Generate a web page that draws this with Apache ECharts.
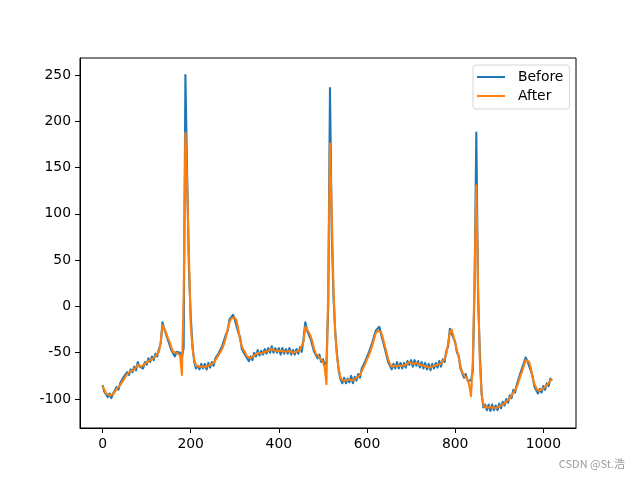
<!DOCTYPE html>
<html>
<head>
<meta charset="utf-8">
<script src="https://cdn.jsdelivr.net/npm/echarts@6/dist/echarts.min.js"></script>
<style>html,body{margin:0;padding:0;background:#fff;}#c{width:640px;height:480px;}</style>
</head>
<body>
<div id="c"></div>
<script>
// sample spacing of the arrays below (x = index * step)
const step = 4;
const seriesNames = ["Before", "After"];
// Before: rows of 10 samples, each row covers 40 x-units
const beforeY = [
  -85,-92,-93,-98,-94,-99,-94,-94,-87,-90,
  -83,-84,-76,-78,-71,-74,-68,-71,-65,-69,
  -60,-65,-63,-67,-60,-63,-56,-60,-54,-58,
  -51,-54,-46,-40,-17,-24,-25,-36,-35,-47,
  -47,-54,-49,-51,-50,-55,-45,250,140,40,
  -10,-42,-60,-67,-64,-68,-62,-67,-62,-68,
  -61,-66,-60,-64,-56,-58,-50,-52,-42,-42,
  -30,-26,-14,-15,-9,-14,-12,-28,-33,-46,
  -44,-53,-51,-59,-54,-58,-50,-54,-47,-53,
  -48,-52,-46,-51,-45,-50,-43,-50,-45,-50,
  -45,-52,-45,-51,-46,-51,-45,-52,-47,-52,
  -46,-51,-44,-49,-35,-17,-26,-25,-35,-35,
  -49,-48,-56,-52,-60,-57,-63,-60,0,236,
  80,10,-28,-52,-70,-79,-83,-77,-83,-78,
  -82,-75,-83,-76,-80,-73,-77,-67,-69,-59,
  -60,-50,-51,-39,-37,-26,-28,-22,-30,-32,
  -45,-47,-60,-60,-68,-62,-67,-60,-67,-61,
  -67,-61,-66,-59,-63,-58,-65,-58,-64,-59,
  -66,-60,-67,-61,-68,-62,-69,-62,-67,-61,
  -66,-59,-65,-57,-60,-48,-43,-24,-22,-34,
  -38,-50,-53,-67,-69,-77,-73,-80,-78,-80,
  -70,20,188,10,-50,-94,-109,-106,-112,-106,
  -113,-106,-112,-107,-112,-105,-110,-103,-107,-100,
  -104,-96,-99,-90,-93,-84,-84,-72,-73,-61,
  -55,-59,-58,-70,-76,-87,-86,-94,-89,-93,
  -86,-90,-83,-86,-78,-80
];
// After: same sampling
const afterY = [
  -86,-90,-94,-96,-96,-96,-95,-92,-89,-87,
  -85,-82,-79,-76,-73,-71,-70,-69,-68,-66,
  -63,-63,-65,-64,-62,-60,-59,-58,-57,-55,
  -54,-52,-49,-38,-20,-22,-28,-34,-38,-44,
  -49,-51,-50,-48,-53,-74,10,188,130,55,
  -20,-45,-57,-64,-66,-65,-65,-65,-64,-65,
  -64,-63,-63,-61,-58,-55,-53,-49,-45,-40,
  -33,-24,-17,-13,-12,-12,-15,-25,-36,-43,
  -47,-50,-54,-56,-56,-55,-53,-51,-50,-51,
  -51,-49,-49,-48,-48,-47,-46,-47,-48,-47,
  -48,-49,-48,-48,-49,-48,-48,-49,-50,-49,
  -49,-48,-47,-46,-38,-22,-24,-28,-32,-38,
  -46,-51,-53,-55,-57,-60,-66,-84,20,176,
  100,20,-30,-55,-68,-77,-80,-80,-80,-80,
  -79,-78,-80,-79,-77,-76,-74,-70,-66,-62,
  -57,-53,-48,-42,-35,-29,-26,-25,-28,-34,
  -42,-49,-57,-62,-65,-65,-64,-63,-64,-64,
  -64,-64,-63,-62,-60,-61,-62,-61,-61,-62,
  -63,-63,-64,-64,-65,-65,-66,-65,-64,-64,
  -63,-62,-62,-60,-57,-51,-40,-28,-25,-32,
  -40,-47,-55,-64,-71,-74,-76,-79,-85,-97,
  -60,30,131,20,-60,-95,-106,-109,-109,-109,
  -110,-109,-109,-110,-109,-108,-107,-106,-104,-103,
  -101,-99,-96,-93,-90,-87,-81,-75,-70,-64,
  -58,-57,-60,-67,-78,-84,-88,-91,-92,-90,
  -88,-87,-85,-83,-80,-78
];
const xTicks = [0, 200, 400, 600, 800, 1000];
const yTicks = [-100, -50, 0, 50, 100, 150, 200, 250];

const toPairs = ys => ys.map((y, i) => [i * step, y]);
const font = "DejaVu Sans";
const chart = echarts.init(document.getElementById('c'), null, {renderer: 'canvas'});
const axisCommon = {
  type: 'value',
  axisLine: {show: true, onZero: false, lineStyle: {color: '#000', width: 1}},
  axisTick: {show: true, inside: false, length: 5, lineStyle: {color: '#000', width: 1}},
  axisLabel: {color: '#000', fontFamily: font, fontSize: 13.9, margin: 9, formatter: v => String(v)},
  splitLine: {show: false}
};
chart.setOption({
  animation: false,
  backgroundColor: '#fff',
  grid: {left: 80, top: 58, width: 496, height: 370, show: true, borderColor: '#000', borderWidth: 1, backgroundColor: 'transparent'},
  xAxis: Object.assign({}, axisCommon, {
    min: -51.15, max: 1074.15,
    axisTick: Object.assign({}, axisCommon.axisTick, {customValues: xTicks}),
    axisLabel: Object.assign({}, axisCommon.axisLabel, {customValues: xTicks})
  }),
  yAxis: Object.assign({}, axisCommon, {
    min: -131.3, max: 268.4,
    axisTick: Object.assign({}, axisCommon.axisTick, {customValues: yTicks}),
    axisLabel: Object.assign({}, axisCommon.axisLabel, {customValues: yTicks})
  }),
  legend: {
    orient: 'vertical', left: 473, top: 65,
    padding: [5, 6, 6, 4], itemGap: 5, itemWidth: 28, itemHeight: 2,
    backgroundColor: '#fff', borderColor: '#d6d6d6', borderWidth: 1, borderRadius: 3,
    textStyle: {color: '#000', fontFamily: font, fontSize: 13.9, padding: [0, 0, 0, 8]},
    data: seriesNames.map(n => ({name: n, icon: 'rect'})),
    itemStyle: {borderWidth: 0}
  },
  series: [
    {name: seriesNames[0], type: 'line', data: toPairs(beforeY), symbol: 'none', color: '#1f77b4',
     lineStyle: {width: 2.08, color: '#1f77b4', join: 'round'}},
    {name: seriesNames[1], type: 'line', data: toPairs(afterY), symbol: 'none', color: '#ff7f0e',
     lineStyle: {width: 2.08, color: '#ff7f0e', join: 'round'}}
  ],
  graphic: [{
    type: 'text', right: 15, top: 458,
    style: {text: 'CSDN @St.浩', fill: '#9a9a9a', font: '11px "Noto Sans CJK SC", sans-serif'}
  }]
});
</script>
</body>
</html>
